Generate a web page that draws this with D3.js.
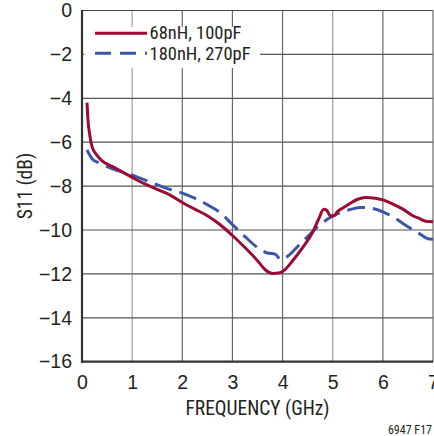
<!DOCTYPE html>
<html><head><meta charset="utf-8">
<script src="https://cdn.jsdelivr.net/npm/d3@7"></script>
<style>
html,body{margin:0;padding:0;background:#fff;}
svg{display:block;}
text{font-family:"Liberation Sans Narrow","Arial Narrow","Roboto Condensed",sans-serif;fill:#231f20;}
</style></head><body>
<svg id="c" width="434" height="436"></svg>
<script>
const xTicks = [0,1,2,3,4,5,6,7];
const yTicks = [0,-2,-4,-6,-8,-10,-12,-14,-16];
const seriesNames = ["68nH, 100pF", "180nH, 270pF"];
const redFreq = [0.1,0.12,0.15,0.2,0.3,0.4,0.6,0.8,1.0,1.25,1.5,1.75,2.0,2.25,2.5,2.75,3.0,3.25,3.5,3.65,3.8,3.95,4.05,4.2,4.4,4.6,4.72,4.82,4.88,4.95,5.02,5.1,5.2,5.35,5.5,5.65,5.85,6.0,6.2,6.4,6.6,6.75,6.85,7.0];
const redS11 = [-4.2,-5.0,-5.6,-6.2,-6.6,-6.85,-7.1,-7.35,-7.6,-7.9,-8.15,-8.4,-8.75,-9.05,-9.35,-9.75,-10.25,-10.8,-11.4,-11.8,-11.98,-11.95,-11.8,-11.4,-10.8,-10.1,-9.5,-9.05,-9.1,-9.35,-9.35,-9.15,-9.0,-8.78,-8.6,-8.52,-8.55,-8.63,-8.82,-9.05,-9.35,-9.5,-9.6,-9.62];
const blueFreq = [0.1,0.2,0.35,0.6,1.0,1.4,1.75,2.0,2.2,2.5,2.75,3.0,3.25,3.5,3.7,3.85,3.97,4.1,4.3,4.5,4.7,4.9,5.1,5.3,5.55,5.75,6.0,6.2,6.5,6.75,6.9,7.0];
const blueS11 = [-6.35,-6.75,-6.95,-7.2,-7.5,-7.85,-8.15,-8.32,-8.5,-8.85,-9.2,-9.75,-10.3,-10.8,-11.05,-11.1,-11.35,-11.2,-10.75,-10.3,-9.85,-9.5,-9.25,-9.1,-8.97,-9.0,-9.17,-9.4,-9.85,-10.2,-10.4,-10.42];

const svg = d3.select("#c");
const L = 82, R = 433, T = 10.5, B = 361.7;
const x = d3.scaleLinear().domain([0,7]).range([L,R]);
const y = d3.scaleLinear().domain([-16,0]).range([B,T]);

// grid
const g = svg.append("g");
g.selectAll("line.v").data(xTicks.slice(1)).join("line")
  .attr("x1", d=>x(d)).attr("x2", d=>x(d)).attr("y1", T).attr("y2", B)
  .attr("stroke", d => (d===1||d===5) ? "#a0a0a0" : "#6a6a6a").attr("stroke-width", 1.2);
g.selectAll("line.h").data(yTicks.slice(0,-1)).join("line")
  .attr("x1", L).attr("x2", R).attr("y1", d=>y(d)).attr("y2", d=>y(d))
  .attr("stroke", d => d===0 ? "#444" : "#555").attr("stroke-width", 1.2);

// axes via d3
const xAxis = d3.axisBottom(x).tickValues(xTicks).tickSize(0).tickPadding(13).tickFormat(d3.format("d"));
const yAxis = d3.axisLeft(y).tickValues(yTicks).tickSize(0).tickPadding(10).tickFormat(d => d===0 ? "0" : "\u2212" + Math.abs(d));
const xa = svg.append("g").attr("transform", `translate(0,${B})`).call(xAxis);
const ya = svg.append("g").attr("transform", `translate(${L},0)`).call(yAxis);
[xa, ya].forEach(a => {
  a.select(".domain").remove();
  a.selectAll("text").attr("font-size", 19.5).attr("fill", "#231f20")
   .style("font-family", '"Liberation Sans Narrow","Arial Narrow",sans-serif');
});
xa.selectAll("text").attr("dy", "0.71em");

// frame
svg.append("line").attr("x1", L).attr("x2", L).attr("y1", T-0.5).attr("y2", B+1).attr("stroke", "#333").attr("stroke-width", 2.2);
svg.append("line").attr("x1", L-1).attr("x2", R).attr("y1", B).attr("y2", B).attr("stroke", "#333").attr("stroke-width", 2.2);

// legend background
svg.append("rect").attr("x", L+2).attr("y", 27).attr("width", 176).attr("height", 41).attr("fill", "#fff");

// curves
const line = d3.line().x(d=>x(d[0])).y(d=>y(d[1])).curve(d3.curveMonotoneX);
const red = redFreq.map((f,i)=>[f, redS11[i]]);
const blue = blueFreq.map((f,i)=>[f, blueS11[i]]);
svg.append("path").datum(blue).attr("d", line).attr("fill","none")
  .attr("stroke","#3a56a5").attr("stroke-width",3).attr("stroke-dasharray","18,8");
svg.append("path").datum(red).attr("d", line).attr("fill","none")
  .attr("stroke","#9b0a31").attr("stroke-width",3);

// legend
const leg = svg.append("g");
leg.append("line").attr("x1",95).attr("x2",147).attr("y1",33.3).attr("y2",33.3).attr("stroke","#9b0a31").attr("stroke-width",3);
leg.append("line").attr("x1",95).attr("x2",147).attr("y1",53.3).attr("y2",53.3).attr("stroke","#3a56a5").attr("stroke-width",3).attr("stroke-dasharray","16,9");
leg.append("text").attr("x",149.5).attr("y",38.5).attr("font-size",18.5).text(seriesNames[0]);
leg.append("text").attr("x",149.5).attr("y",59.5).attr("font-size",18.5).text(seriesNames[1]);

// axis titles
svg.append("text").attr("x", 257.5).attr("y", 415).attr("text-anchor","middle").attr("font-size",19.5).text("FREQUENCY (GHz)");
svg.append("text").attr("transform", `translate(32,${(T+B)/2}) rotate(-90)`).attr("text-anchor","middle").attr("font-size",19.5).text("S11 (dB)");
svg.append("text").attr("x", 432).attr("y", 434).attr("text-anchor","end").attr("font-size",12).text("6947 F17");
</script>
</body></html>
